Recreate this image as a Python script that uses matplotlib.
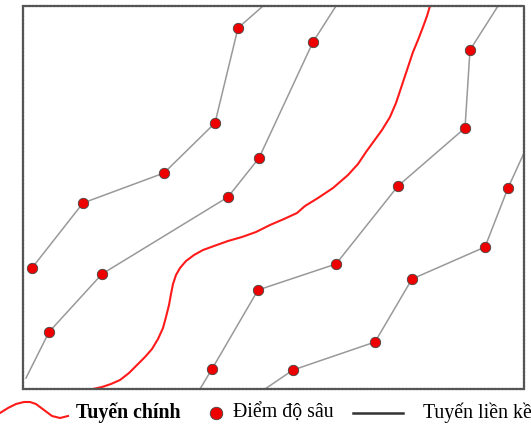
import matplotlib.pyplot as plt

# positions (pixel units, y grows downward)
line1_x = [32, 83, 164, 215, 238, 263]
line1_y = [268, 203, 173, 123, 28, 6]
line2_x = [26, 49, 102, 228, 259, 313, 336]
line2_y = [378, 332, 274, 197, 158, 42, 6]
line3_x = [200, 212, 258, 336, 398, 465, 470, 498]
line3_y = [389, 369, 290, 264, 186, 128, 50, 6]
line4_x = [265, 293, 375, 412, 485, 508, 524]
line4_y = [389, 370, 342, 279, 247, 188, 153]

# which vertices are depth points (end vertices on the border are not)
dots1 = [0, 1, 2, 3, 4]
dots2 = [1, 2, 3, 4, 5]
dots3 = [1, 2, 3, 4, 5, 6]
dots4 = [1, 2, 3, 4, 5]

main_x = [93, 102, 111, 120, 129, 137, 145, 152, 158, 163, 166, 169, 171, 173,
          176, 180, 186, 194, 203, 214, 228, 242, 256, 270, 284, 297, 305,
          318, 333, 348, 358, 366, 374, 382, 390, 396, 401, 407, 413, 418,
          423, 427, 430]
main_y = [389, 387, 384, 380, 373, 365, 357, 349, 339, 328, 317, 305, 294, 284,
          275, 268, 261, 255, 250, 246, 241, 237, 232, 225, 219, 213, 206,
          198, 188, 175, 164, 152, 141, 130, 117, 103, 88, 70, 52, 40,
          27, 16, 6]

labels = ["Tuyến chính", "Điểm độ sâu", "Tuyến liền kề"]

W, H = 531, 428
fig = plt.figure(figsize=(W / 100, H / 100), dpi=100)
ax = fig.add_axes([23 / W, (H - 389) / H, (524 - 23) / W, (389 - 6) / H])
ax.set_xlim(23, 524)
ax.set_ylim(389, 6)
ax.set_xticks([])
ax.set_yticks([])
for s in ax.spines.values():
    s.set_linestyle((0, (1, 0.6)))
    s.set_linewidth(1.6)
    s.set_color('#555555')

for xs, ys, d in [(line1_x, line1_y, dots1), (line2_x, line2_y, dots2),
                  (line3_x, line3_y, dots3), (line4_x, line4_y, dots4)]:
    ax.plot(xs, ys, color='#999999', lw=1.1, zorder=1, clip_on=False)
    ax.plot([xs[i] for i in d], [ys[i] for i in d], 'o', ms=7.5,
            mfc='#ee0000', mec='#444444', mew=0.6, zorder=3)

ax.plot(main_x, main_y, color='#ff1a1a', lw=1.5, zorder=2,
        solid_joinstyle='round')

# legend strip
lg = fig.add_axes([0, 0, 1, (H - 389) / H])
lg.set_xlim(0, W)
lg.set_ylim(428, 389)
lg.axis('off')
wave_x = [0, 8, 16, 24, 30, 36, 44, 52, 60, 64, 68]
wave_y = [413, 408, 404, 402, 402, 404, 410, 416, 418, 417, 416]
lg.plot(wave_x, wave_y, color='#ff1a1a', lw=1.5)
lg.text(76, 413, labels[0], fontsize=14.3, fontweight='bold', family='Liberation Serif',
        va='center', ha='left')
lg.plot([216], [413], 'o', ms=9, mfc='#ee0000', mec='#444444', mew=0.6)
lg.text(233, 413, labels[1], fontsize=14.3, family='Liberation Serif', va='center', ha='left')
lg.plot([353, 403], [413, 413], color='#333333', lw=1.8)
lg.text(423, 413, labels[2], fontsize=14.3, family='Liberation Serif', va='center', ha='left')

fig.savefig('out.png', dpi=100)
